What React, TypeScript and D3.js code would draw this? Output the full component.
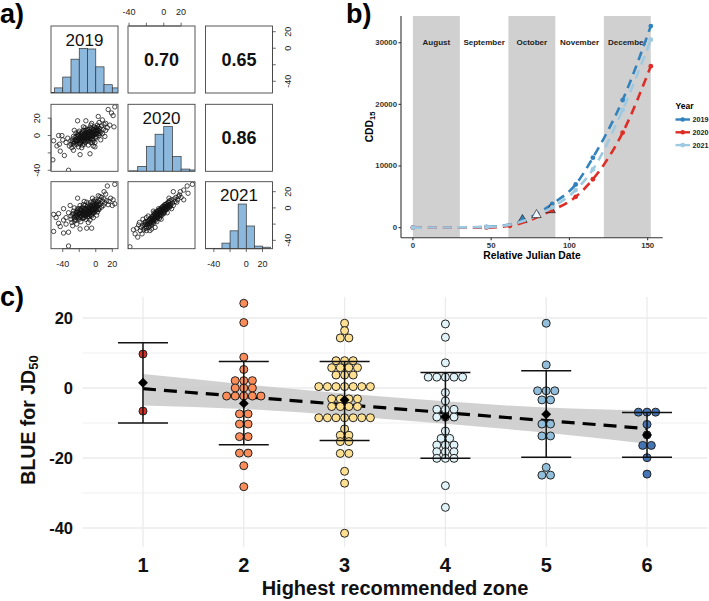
import * as d3 from "d3";

const FONT = "'Liberation Sans', Arial, Helvetica, sans-serif";

// ---------- a) pairs plot ----------
const pairYears = ["2019", "2020", "2021"];
const pairDomains: [number, number][] = [[-54.2, 26.9], [-41.2, 36], [-50.3, 32.3]];
const pairCorr = ["0.70", "0.65", "0.86"]; // 19-20, 19-21, 20-21
const pairTicks = [-40, -20, 0, 20];
const pairTickLabels = [-40, 0, 20];

const histBreaks2019 = [-60, -50, -40, -30, -20, -10, 0, 10, 20, 30];
const histCounts2019 = [1, 8, 25, 53, 70, 69, 41, 13, 8];
const histBreaks2020 = [-40, -30, -20, -10, 0, 10, 20, 30, 40];
const histCounts2020 = [1, 11, 56, 83, 100, 33, 5, 3];
const histBreaks2021 = [-50, -40, -30, -20, -10, 0, 10, 20, 30];
const histCounts2021 = [1, 1, 15, 48, 120, 61, 7, 4];

// [2019, 2020]
const pts20vs19: [number, number][] = [
  [23, 33], [15, 30], [19, 26], [21, 23], [3, 22], [8, 18], [-22, 17], [-12, 17], [-5, 14], [12, 14],
  [17, 12], [22, 10], [-45, 0], [-41, 0], [-51, -6], [-47, -12], [-43, -18], [-38, -23], [-52, -28],
  [-33, -40], [-1, -13], [-7, -21], [-19, -22], [-27, -17], [-30, -10], [-36, -8], [-40, -5], [-44, -10],
  [-30, -6], [-28, -4], [-26, -8], [-25, -2], [-24, -5], [-23, -10], [-22, -3], [-21, 0], [-20, -6],
  [-19, -2], [-18, 2], [-18, -8], [-17, -4], [-16, 0], [-16, 4], [-15, -6], [-15, -2], [-14, 2],
  [-14, -10], [-13, -4], [-13, 6], [-12, 0], [-12, -7], [-11, 3], [-11, -3], [-10, -1], [-10, 7],
  [-9, 1], [-9, -6], [-8, 4], [-8, -3], [-7, 0], [-7, 9], [-6, 2], [-6, -5], [-5, 5], [-5, -1],
  [-4, 3], [-4, -8], [-3, 7], [-3, 0], [-2, 4], [-2, 10], [-1, 2], [0, 6], [0, -3], [1, 9], [2, 3],
  [2, 12], [3, 6], [4, 0], [5, 8], [6, 4], [7, 11], [8, 2], [9, 7], [10, 13], [-32, -12], [-29, -14],
  [-27, -1], [-24, 3], [-21, -13], [-20, 5], [-17, -14], [-13, 9], [-9, -11], [-6, 12], [-1, -8],
  [4, 15], [6, -5], [12, 6], [14, 9], [-34, -3], [-26, 6], [-15, 10], [-3, -12], [11, -1],
  [-24, -7], [-23, -1], [-22, -6], [-21, -4], [-21, 3], [-20, -9], [-20, -3], [-19, 1], [-19, -10],
  [-18, -5], [-18, -1], [-17, 3], [-17, -7], [-16, -3], [-16, -11], [-15, 1], [-15, 6], [-14, -1],
  [-14, -6], [-13, 0], [-13, -8], [-12, 3], [-12, -2], [-11, 6], [-11, -5], [-10, 1], [-10, -4],
  [-9, 4], [-9, -2], [-8, 1], [-8, 7], [-7, -3], [-7, 5], [-6, 0], [-6, -8], [-5, 3], [-5, 8], [-4, 0],
  [-4, -4], [-3, 3], [-3, -6], [-2, 1], [-2, 7], [-1, 5], [-1, -2], [0, 2], [0, 9], [1, 5], [1, -1],
  [2, 7], [3, 2], [3, 10], [4, 5], [5, 2], [-27, -9], [-25, -5], [-23, -6], [-22, 1], [-26, -11],
  [-28, -7],
];

// [2019, 2021]
const pts21vs19: [number, number][] = [
  [23, 29], [14, 27], [10, 20], [21, 10], [23, 5], [18, 12], [16, 8], [20, 3], [-22, 12], [-31, 3],
  [-39, -1], [-51, -8], [-45, -7], [-51, -29], [-39, -31], [-33, -30], [-19, -26], [-11, -25],
  [-5, -25], [-33, -47], [-45, -19], [-39, -15], [-43, -23], [-48, -12], [-36, -20], [-28, -22],
  [-25, -14], [-30, -10], [-27, -4], [3, 15], [7, 13], [12, 17], [-4, 12], [-14, 8],
  [-30, -14], [-28, -8], [-26, -16], [-25, -10], [-24, -6], [-23, -12], [-22, -3], [-21, -8],
  [-20, -14], [-20, -1], [-19, -6], [-18, -10], [-17, -3], [-16, -7], [-16, 1], [-15, -12], [-14, -4],
  [-14, -9], [-13, -1], [-13, 3], [-12, -6], [-12, -14], [-11, -2], [-10, -8], [-10, 2], [-9, -4],
  [-9, 5], [-8, -11], [-8, 0], [-7, -6], [-7, 3], [-6, -2], [-6, 7], [-5, -8], [-5, 1], [-4, -4],
  [-4, 5], [-3, -1], [-3, 8], [-2, -6], [-2, 3], [-1, 0], [-1, 10], [0, -3], [0, 5], [1, 2], [2, -5],
  [2, 8], [3, 4], [4, 0], [5, 10], [6, 5], [7, 1], [8, 8], [9, 3], [10, 11], [11, 6], [13, 9],
  [-29, -18], [-23, -20], [-18, -17], [-15, 4], [-11, 7], [-7, -15], [-3, -12], [1, -9], [4, -2],
  [-19, 3], [-26, 0], [-33, -6], [-36, -12], [15, 4], [-9, -18], [5, 14],
  [-24, -9], [-23, -5], [-22, -10], [-21, -5], [-21, -12], [-20, -7], [-19, -11], [-19, -3],
  [-18, -7], [-18, -1], [-17, -10], [-17, -5], [-16, -4], [-16, -13], [-15, -8], [-15, -1], [-14, -6],
  [-14, -12], [-13, -3], [-13, -8], [-12, -1], [-12, -10], [-11, -5], [-11, -8], [-10, -3], [-10, -11],
  [-9, -7], [-9, 0], [-8, -4], [-8, -8], [-7, -1], [-7, -9], [-6, -5], [-6, 2], [-5, -3], [-5, -10],
  [-4, 0], [-4, -6], [-3, -3], [-3, 3], [-2, -1], [-2, 6], [-1, -4], [-1, 3], [0, 0], [0, 8], [1, -2],
  [1, 5], [2, 2], [3, -2], [3, 7], [4, 4], [-26, -12], [-27, -7], [-24, -15], [-22, -1],
];

// [2020, 2021]
const pts21vs20: [number, number][] = [
  [-39, -48], [-27, -28], [-29, -21], [-16, -28], [-10, -24], [33, 29], [27, 27], [23, 22], [18, 16],
  [11, 20], [23, 10], [-33, -32], [-31, -25], [-25, -32], [-35, -27], [-30, -36], [-22, -18],
  [-20, -28], [28, 18], [15, 7], [-26, -24], [-24, -22], [-23, -27], [-22, -25], [-21, -20],
  [-20, -23], [-19, -17], [-18, -21], [-17, -15], [-17, -24], [-16, -19], [-15, -13], [-15, -17],
  [-14, -21], [-13, -11], [-13, -16], [-12, -14], [-12, -19], [-11, -9], [-11, -12], [-10, -16],
  [-10, -7], [-9, -11], [-9, -14], [-8, -5], [-8, -9], [-7, -12], [-7, -7], [-6, -3], [-6, -10],
  [-5, -6], [-5, -13], [-4, -2], [-4, -8], [-3, -5], [-3, 0], [-2, -3], [-2, -9], [-1, -1], [-1, -6],
  [0, 2], [0, -4], [1, -1], [1, 4], [2, -3], [2, 1], [3, 5], [3, -1], [4, 2], [5, 7], [5, 0], [6, 4],
  [7, 9], [7, 1], [8, 5], [9, 10], [10, 6], [11, 3], [12, 11], [13, 8], [14, 13], [16, 10], [17, 14],
  [20, 13], [-18, -10], [-14, -26], [-8, -17], [-3, -14], [4, -6], [9, -1], [-24, -14], [-28, -18],
  [19, 20], [6, 12], [-12, -4], [-20, -12],
  [-19, -20], [-18, -16], [-17, -19], [-16, -14], [-16, -22], [-15, -19], [-14, -15], [-14, -11],
  [-13, -18], [-13, -13], [-12, -9], [-12, -16], [-11, -14], [-11, -6], [-10, -12], [-10, -10],
  [-9, -8], [-9, -5], [-8, -12], [-8, -7], [-7, -4], [-7, -10], [-6, -7], [-6, -1], [-5, -9], [-5, -3],
  [-4, -5], [-4, -11], [-3, -2], [-3, -8], [-2, -6], [-2, 0], [-1, -3], [-1, 2], [0, -1], [0, -7],
  [1, 1], [1, -5], [2, 4], [2, -2], [3, 2], [4, -1], [4, 5], [5, 3], [6, 1], [6, 7], [8, 3],
  [-21, -17], [-20, -25], [-22, -21],
];

// ---------- b) CDD15 ----------
const monthNames = ["August", "September", "October", "November", "December"];
const monthBreaks = [0, 30, 61, 91, 122, 152];
const cddYears = ["2019", "2020", "2021"];
const cddColors = ["#3182bd", "#de2d26", "#9ecae1"];
const cddDay2019 = [0, 47, 70, 89, 104, 115, 134, 152];
const cdd2019 = [0, 100, 1100, 3850, 7000, 11350, 20700, 32700];
const cddDay2020 = [0, 47, 62, 88, 104, 115, 134, 152];
const cdd2020 = [0, 0, 300, 2700, 5000, 7850, 15400, 26200];
const cddDay2021 = [0, 47, 79, 89, 104, 115, 134, 152];
const cdd2021 = [0, 80, 1900, 3300, 6100, 9450, 19100, 30500];
const cddMarkerDay = [70, 88, 79];
const cddYTicks = [0, 10000, 20000, 30000];
const cddXTicks = [0, 50, 100, 150];

// ---------- c) BLUE by zone ----------
const zones = [1, 2, 3, 4, 5, 6];
const zoneColors = ["#d73027", "#fc8d59", "#fee090", "#e0f3f8", "#91bfdb", "#4575b4"];
const rep = (v: number, n: number) => Array(n).fill(v);
const zone1 = [9.7, -6.6];
const zone2 = [24.2, 18.7, 8.8, 5.3, ...rep(2.1, 3), ...rep(0, 3), ...rep(-2.3, 5), ...rep(-7.4, 2),
  ...rep(-10.3, 2), ...rep(-13.9, 2), ...rep(-18.6, 2), -22.2, -28.2];
const zone3 = [18.5, 16.4, ...rep(14.3, 2), ...rep(7.8, 3), ...rep(5.8, 4), ...rep(3.7, 3), ...rep(0.4, 7),
  ...rep(-3.1, 4), ...rep(-5.3, 4), ...rep(-8.5, 7), -11.7, ...rep(-13.5, 2), ...rep(-15.3, 2),
  ...rep(-18.7, 2), -23.8, -27.2, -41.5];
const zone4 = [18.3, 14.5, 7.2, ...rep(3.1, 5), -1.3, -3.7, ...rep(-6.1, 3), ...rep(-8.3, 3), -12.3,
  ...rep(-14.4, 2), ...rep(-16.3, 3), ...rep(-18.2, 3), ...rep(-20.1, 3), -27.9, -34.1];
const zone5 = [18.5, 6.6, ...rep(-0.8, 3), ...rep(-3.4, 2), ...rep(-10.3, 2), ...rep(-13.7, 2), -22.7,
  ...rep(-24.9, 2)];
const zone6 = [...rep(-6.9, 3), -10.4, -13.4, ...rep(-16.4, 2), -19.9, -24.6];
const zoneMeans = [1.5, -4.4, -3.4, -8.2, -7.5, -13.4];
const zoneUpper = [12.9, 7.6, 7.6, 4.4, 4.9, -7.0];
const zoneLower = [-10.0, -16.2, -15.0, -20.1, -19.8, -19.8];
const fitX = [1, 6];
const fitY = [-0.2, -11.6];
const ciUpper = [4.0, 1.1, -1.6, -3.8, -5.6, -6.5];
const ciLower = [-5.0, -6.0, -7.9, -10.2, -12.8, -15.9];
const cYTicks = [-40, -20, 0, 20];
const cYMinor = [-30, -10, 10];

export default function App() {
  // ---- a ----
  const cellLeft = [51, 128, 205.5];
  const cellTop = [26, 104.3, 181.7];
  const cell = 67;
  const ax = pairDomains.map((d, i) => d3.scaleLinear().domain(d).range([cellLeft[i], cellLeft[i] + cell]));
  const ay = pairDomains.map((d, i) => d3.scaleLinear().domain(d).range([cellTop[i] + cell, cellTop[i]]));
  const histBreaks = [histBreaks2019, histBreaks2020, histBreaks2021];
  const histCounts = [histCounts2019, histCounts2020, histCounts2021];
  const scatter = [
    { row: 1, col: 0, pts: pts20vs19 },
    { row: 2, col: 0, pts: pts21vs19 },
    { row: 2, col: 1, pts: pts21vs20 },
  ];
  const upper = [
    { row: 0, col: 1 },
    { row: 0, col: 2 },
    { row: 1, col: 2 },
  ];

  // ---- b ----
  const bx = d3.scaleLinear().domain([-7.6, 159.6]).range([401, 662.7]);
  const by = d3.scaleLinear().domain([-1635, 34335]).range([237.7, 16]);
  const cddDays = [cddDay2019, cddDay2020, cddDay2021];
  const cddVals = [cdd2019, cdd2020, cdd2021];
  const cddLine = d3
    .line<[number, number]>()
    .x((d) => bx(d[0]))
    .y((d) => by(d[1]))
    .curve(d3.curveMonotoneX);
  const tri = d3.symbol(d3.symbolTriangle, 38)();

  // ---- c ----
  const cx = d3.scaleLinear().domain([0.4, 6.6]).range([82.5, 707.5]);
  const cy = d3.scaleLinear().domain([-45.4, 26]).range([546.9, 297]);
  const zoneVals = [zone1, zone2, zone3, zone4, zone5, zone6];
  const dotD = 8.6;
  const dots = zoneVals.flatMap((vals, zi) => {
    const groups = d3.groups(vals, (v) => v);
    return groups.flatMap(([v, arr]) =>
      arr.map((_, k) => ({
        x: cx(zones[zi]) + (k - (arr.length - 1) / 2) * dotD,
        y: cy(v),
        color: zoneColors[zi],
      }))
    );
  });
  const ciArea = d3
    .area<number>()
    .x((_, i) => cx(zones[i]))
    .y0((_, i) => cy(ciLower[i]))
    .y1((d) => cy(d))
    .curve(d3.curveNatural);
  const diamond = d3.symbol(d3.symbolDiamond2, 62)();

  return (
    <svg
      width={709}
      height={601}
      style={{ position: "absolute", left: 0, top: 0, background: "#fff" }}
      fontFamily={FONT}
    >
      <defs>
        {[0, 1, 2].flatMap((r) =>
          [0, 1, 2].map((c) => (
            <clipPath id={`cell-${r}-${c}`} key={`${r}-${c}`}>
              <rect x={cellLeft[c]} y={cellTop[r]} width={cell} height={cell} />
            </clipPath>
          ))
        )}
        <clipPath id="bclip">
          <rect x={401} y={16} width={262} height={222} />
        </clipPath>
      </defs>
      <rect width={709} height={601} fill="#fff" />

      {/* ===== a) ===== */}
      <text x={0} y={23} fontSize={27} fontWeight="bold">a)</text>

      {/* histograms */}
      {pairYears.map((yr, i) => {
        const maxC = d3.max(histCounts[i]) as number;
        const hy = d3.scaleLinear().domain([0, 1.5]).range([cellTop[i] + cell, cellTop[i]]);
        return (
          <g key={yr}>
            <g clipPath={`url(#cell-${i}-${i})`}>
              {histCounts[i].map((c, k) => (
                <rect
                  key={k}
                  x={ax[i](histBreaks[i][k])}
                  y={hy(c / maxC)}
                  width={ax[i](histBreaks[i][k + 1]) - ax[i](histBreaks[i][k])}
                  height={hy(0) - hy(c / maxC)}
                  fill="#8cb8dd"
                  stroke="#333"
                  strokeWidth={0.7}
                />
              ))}
            </g>
            <text x={cellLeft[i] + cell / 2} y={cellTop[i] + 19.5} fontSize={17} textAnchor="middle" fill="#111">
              {yr}
            </text>
          </g>
        );
      })}

      {/* scatter panels */}
      {scatter.map((s) => (
        <g key={`${s.row}-${s.col}`} clipPath={`url(#cell-${s.row}-${s.col})`}>
          {s.pts.map((p, k) => (
            <circle
              key={k}
              cx={ax[s.col](p[0])}
              cy={ay[s.row](p[1])}
              r={2.2}
              fill="none"
              stroke="#111"
              strokeWidth={0.75}
            />
          ))}
        </g>
      ))}

      {/* correlations */}
      {upper.map((u, k) => (
        <text
          key={k}
          x={cellLeft[u.col] + cell / 2}
          y={cellTop[u.row] + cell / 2}
          fontSize={18}
          fontWeight="bold"
          textAnchor="middle"
          dominantBaseline="central"
          fill="#111"
        >
          {pairCorr[k]}
        </text>
      ))}

      {/* boxes */}
      {[0, 1, 2].flatMap((r) =>
        [0, 1, 2].map((c) => (
          <rect
            key={`b${r}${c}`}
            x={cellLeft[c]}
            y={cellTop[r]}
            width={cell}
            height={cell}
            fill="none"
            stroke="#444"
            strokeWidth={0.9}
          />
        ))
      )}

      {/* pairs axes */}
      <g fill="#222" stroke="#444" fontSize={9}>
        {[0, 2].map((c) => {
          const yb = cellTop[2] + cell;
          return (
            <g key={`bx${c}`}>
              <line x1={ax[c](-40)} x2={ax[c](20)} y1={yb} y2={yb} strokeWidth={0.8} />
              {pairTicks.map((t) => (
                <line key={t} x1={ax[c](t)} x2={ax[c](t)} y1={yb} y2={yb + 3.3} strokeWidth={0.8} />
              ))}
              {pairTickLabels.map((t) => (
                <text key={t} x={ax[c](t)} y={yb + 15.5} textAnchor="middle" dominantBaseline="central" stroke="none">
                  {t}
                </text>
              ))}
            </g>
          );
        })}
        {[1].map((c) => {
          const yt = cellTop[0];
          return (
            <g key={`tx${c}`}>
              <line x1={ax[c](-40)} x2={ax[c](20)} y1={yt} y2={yt} strokeWidth={0.8} />
              {pairTicks.map((t) => (
                <line key={t} x1={ax[c](t)} x2={ax[c](t)} y1={yt} y2={yt - 3.3} strokeWidth={0.8} />
              ))}
              {pairTickLabels.map((t) => (
                <text key={t} x={ax[c](t)} y={yt - 14} textAnchor="middle" dominantBaseline="central" stroke="none">
                  {t}
                </text>
              ))}
            </g>
          );
        })}
        {[0, 2].map((r) => {
          const xr = cellLeft[2] + cell;
          return (
            <g key={`ry${r}`}>
              <line x1={xr} x2={xr} y1={ay[r](-40)} y2={ay[r](20)} strokeWidth={0.8} />
              {pairTicks.map((t) => (
                <line key={t} x1={xr} x2={xr + 3.3} y1={ay[r](t)} y2={ay[r](t)} strokeWidth={0.8} />
              ))}
              {pairTickLabels.map((t) => (
                <text
                  key={t}
                  x={xr + 16}
                  y={ay[r](t)}
                  textAnchor="middle"
                  dominantBaseline="central"
                  stroke="none"
                  transform={`rotate(-90, ${xr + 16}, ${ay[r](t)})`}
                >
                  {t}
                </text>
              ))}
            </g>
          );
        })}
        {[1].map((r) => {
          const xl = cellLeft[0];
          return (
            <g key={`ly${r}`}>
              <line x1={xl} x2={xl} y1={ay[r](-40)} y2={ay[r](20)} strokeWidth={0.8} />
              {pairTicks.map((t) => (
                <line key={t} x1={xl} x2={xl - 3.3} y1={ay[r](t)} y2={ay[r](t)} strokeWidth={0.8} />
              ))}
              {pairTickLabels.map((t) => (
                <text
                  key={t}
                  x={xl - 14}
                  y={ay[r](t)}
                  textAnchor="middle"
                  dominantBaseline="central"
                  stroke="none"
                  transform={`rotate(-90, ${xl - 14}, ${ay[r](t)})`}
                >
                  {t}
                </text>
              ))}
            </g>
          );
        })}
      </g>

      {/* ===== b) ===== */}
      <text x={346} y={23} fontSize={27} fontWeight="bold">b)</text>
      <g clipPath="url(#bclip)">
        {[0, 2, 4].map((m) => (
          <rect
            key={m}
            x={bx(monthBreaks[m])}
            y={16}
            width={bx(monthBreaks[m + 1]) - bx(monthBreaks[m])}
            height={221.7}
            fill="#d0d0d0"
          />
        ))}
      </g>
      {monthNames.map((m, i) => (
        <text
          key={m}
          x={bx((monthBreaks[i] + monthBreaks[i + 1]) / 2)}
          y={by(30000)}
          fontSize={8}
          fontWeight="bold"
          textAnchor="middle"
          dominantBaseline="central"
          fill="#222"
        >
          {m}
        </text>
      ))}
      {cddYears.map((yr, i) => {
        const pts = cddDays[i].map((d, k) => [d, cddVals[i][k]] as [number, number]);
        return (
          <g key={yr}>
            <path
              d={cddLine(pts) as string}
              fill="none"
              stroke={cddColors[i]}
              strokeWidth={2.6}
              strokeDasharray="9 6"
            />
            {pts
              .filter((p) => p[0] !== cddMarkerDay[i])
              .map((p, k) => (
                <circle key={k} cx={bx(p[0])} cy={by(p[1])} r={2.4} fill={cddColors[i]} />
              ))}
            {pts
              .filter((p) => p[0] === cddMarkerDay[i])
              .map((p, k) => (
                <path
                  key={`t${k}`}
                  d={tri as string}
                  transform={`translate(${bx(p[0])},${by(p[1]) - 1})`}
                  fill={i === 2 ? "#eef6fb" : cddColors[i]}
                  stroke="#222"
                  strokeWidth={0.7}
                />
              ))}
          </g>
        );
      })}
      <g stroke="#333" strokeWidth={1.1}>
        <line x1={401} x2={401} y1={16} y2={237.7} />
        <line x1={401} x2={662.7} y1={237.7} y2={237.7} />
        {cddYTicks.map((t) => (
          <line key={t} x1={398.5} x2={401} y1={by(t)} y2={by(t)} />
        ))}
        {cddXTicks.map((t) => (
          <line key={t} x1={bx(t)} x2={bx(t)} y1={237.7} y2={240.2} />
        ))}
      </g>
      {cddYTicks.map((t) => (
        <text key={t} x={397} y={by(t)} fontSize={7.8} fontWeight="bold" textAnchor="end" dominantBaseline="central" fill="#333">
          {t}
        </text>
      ))}
      {cddXTicks.map((t) => (
        <text key={t} x={bx(t)} y={245} fontSize={7.8} fontWeight="bold" textAnchor="middle" dominantBaseline="central" fill="#333">
          {t}
        </text>
      ))}
      <text x={532} y={255.5} fontSize={10.3} fontWeight="bold" textAnchor="middle" dominantBaseline="central">
        Relative Julian Date
      </text>
      <text
        x={369}
        y={127}
        fontSize={10.3}
        fontWeight="bold"
        textAnchor="middle"
        dominantBaseline="central"
        transform="rotate(-90, 369, 127)"
      >
        CDD<tspan fontSize={7.5} dy={3}>15</tspan>
      </text>
      <text x={675.5} y={106} fontSize={8.5} fontWeight="bold" dominantBaseline="central">Year</text>
      {cddYears.map((yr, i) => (
        <g key={yr}>
          <line x1={675.5} x2={690} y1={119.5 + i * 12.8} y2={119.5 + i * 12.8} stroke={cddColors[i]} strokeWidth={2.4} />
          <circle cx={682.7} cy={119.5 + i * 12.8} r={2.3} fill={cddColors[i]} />
          <text x={692.5} y={119.5 + i * 12.8} fontSize={7.2} fontWeight="bold" dominantBaseline="central" fill="#222">
            {yr}
          </text>
        </g>
      ))}

      {/* ===== c) ===== */}
      <text x={0} y={306} fontSize={27} fontWeight="bold">c)</text>
      <g stroke="#ebebeb">
        {cYMinor.map((t) => (
          <line key={t} x1={82.5} x2={707.5} y1={cy(t)} y2={cy(t)} strokeWidth={0.8} />
        ))}
        {cYTicks.map((t) => (
          <line key={t} x1={82.5} x2={707.5} y1={cy(t)} y2={cy(t)} strokeWidth={1.3} />
        ))}
        {zones.map((z) => (
          <line key={z} x1={cx(z)} x2={cx(z)} y1={297} y2={546.9} strokeWidth={1.3} />
        ))}
      </g>
      <path d={ciArea(ciUpper) as string} fill="#c9c9c9" fillOpacity={0.85} />
      <line
        x1={cx(fitX[0])}
        x2={cx(fitX[1])}
        y1={cy(fitY[0])}
        y2={cy(fitY[1])}
        stroke="#000"
        strokeWidth={3.2}
        strokeDasharray="13 8"
      />
      {dots.map((d, k) => (
        <circle key={k} cx={d.x} cy={d.y} r={dotD / 2 - 0.3} fill={d.color} stroke="#222" strokeWidth={1} />
      ))}
      {zones.map((z, i) => (
        <g key={z} stroke="#111" strokeWidth={1.5}>
          <line x1={cx(z)} x2={cx(z)} y1={cy(zoneUpper[i])} y2={cy(zoneLower[i])} />
          <line x1={cx(z) - 25} x2={cx(z) + 25} y1={cy(zoneUpper[i])} y2={cy(zoneUpper[i])} />
          <line x1={cx(z) - 25} x2={cx(z) + 25} y1={cy(zoneLower[i])} y2={cy(zoneLower[i])} />
          <path d={diamond as string} transform={`translate(${cx(z)},${cy(zoneMeans[i])})`} fill="#000" stroke="none" />
        </g>
      ))}
      {cYTicks.map((t) => (
        <text key={t} x={73} y={cy(t)} fontSize={16.5} fontWeight="bold" textAnchor="end" dominantBaseline="central" fill="#111">
          {t}
        </text>
      ))}
      {zones.map((z) => (
        <text key={z} x={cx(z)} y={565} fontSize={20} fontWeight="bold" textAnchor="middle" dominantBaseline="central" fill="#111">
          {z}
        </text>
      ))}
      <text x={395} y={588} fontSize={20} fontWeight="bold" textAnchor="middle" dominantBaseline="central" fill="#111">
        Highest recommended zone
      </text>
      <text
        x={28}
        y={420}
        fontSize={19.5}
        fontWeight="bold"
        textAnchor="middle"
        dominantBaseline="central"
        fill="#111"
        transform="rotate(-90, 28, 420)"
      >
        BLUE for JD<tspan fontSize={13} dy={5}>50</tspan>
      </text>
    </svg>
  );
}
